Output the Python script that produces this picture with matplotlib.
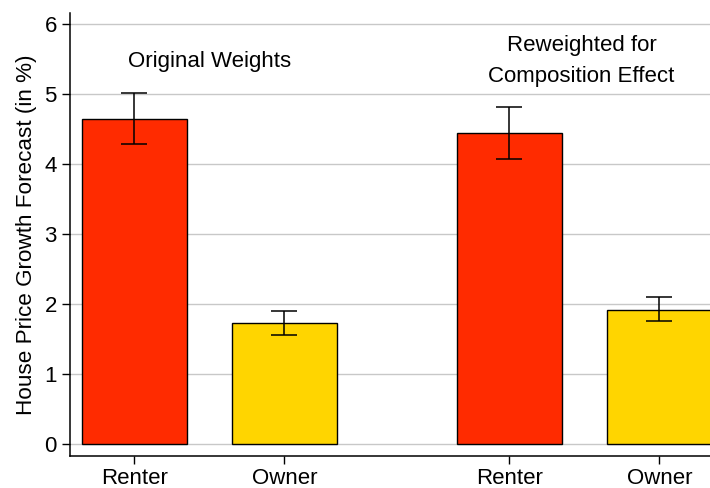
import matplotlib.pyplot as plt
import numpy as np

plt.rcParams['font.family'] = ['Liberation Sans', 'DejaVu Sans']

# data
labels = ['Renter', 'Owner', 'Renter', 'Owner']
values = [4.65, 1.73, 4.45, 1.92]
err_lo = [4.29, 1.56, 4.08, 1.76]
err_hi = [5.02, 1.90, 4.82, 2.10]
groups = ['Original Weights', 'Reweighted for\nComposition Effect']

pos = np.array([1.0, 2.0, 3.5, 4.5])
red, yellow = '#FF2B00', '#FFD500'
colors = [red, yellow, red, yellow]

fig = plt.figure(figsize=(7.10, 4.88), dpi=100)
ax = fig.add_axes([70/710, 32/488, 640/710, 443/488])

yerr = np.array([np.array(values) - np.array(err_lo),
                 np.array(err_hi) - np.array(values)])
ax.bar(pos, values, width=0.7, color=colors, edgecolor='black', linewidth=1.0, zorder=2)
ax.errorbar(pos, values, yerr=yerr, fmt='none', ecolor='black', elinewidth=1.1,
            capsize=9.7, capthick=1.1, zorder=3)

ax.text(1.5, 5.46, groups[0], ha='center', va='center', fontsize=16)
ax.text(3.98, 5.47, groups[1], ha='center', va='center', fontsize=16, linespacing=1.6)

ax.set_xlim(0.57, 4.837)
ax.set_ylim(-0.171, 6.16)
ax.set_yticks(range(7))
ax.set_xticks(pos)
ax.set_xticklabels(labels)
ax.tick_params(axis='both', labelsize=16, length=6, width=1, direction='out')
ax.tick_params(axis='x', pad=3)
ax.yaxis.grid(True, color='#C8C8C8', linewidth=1, zorder=0)
ax.set_axisbelow(True)
ax.set_ylabel('House Price Growth Forecast (in %)', fontsize=16.2, labelpad=5)

for s in ['top', 'right']:
    ax.spines[s].set_visible(False)
for s in ['left', 'bottom']:
    ax.spines[s].set_linewidth(1.1)

fig.savefig('out.png', dpi=100)
